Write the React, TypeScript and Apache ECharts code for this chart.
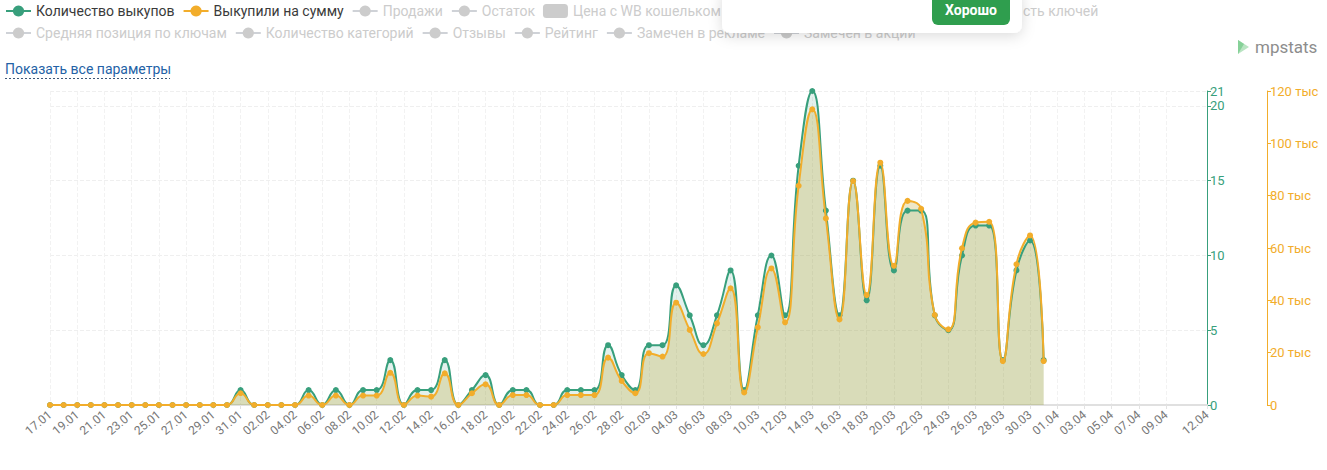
import React, { useEffect, useRef } from 'react';
import * as echarts from 'echarts';

const dates = [
  '17.01', '18.01', '19.01', '20.01', '21.01', '22.01', '23.01', '24.01', '25.01', '26.01',
  '27.01', '28.01', '29.01', '30.01', '31.01', '01.02', '02.02', '03.02', '04.02', '05.02',
  '06.02', '07.02', '08.02', '09.02', '10.02', '11.02', '12.02', '13.02', '14.02', '15.02',
  '16.02', '17.02', '18.02', '19.02', '20.02', '21.02', '22.02', '23.02', '24.02', '25.02',
  '26.02', '27.02', '28.02', '01.03', '02.03', '03.03', '04.03', '05.03', '06.03', '07.03',
  '08.03', '09.03', '10.03', '11.03', '12.03', '13.03', '14.03', '15.03', '16.03', '17.03',
  '18.03', '19.03', '20.03', '21.03', '22.03', '23.03', '24.03', '25.03', '26.03', '27.03',
  '28.03', '29.03', '30.03', '31.03', '01.04', '02.04', '03.04', '04.04', '05.04', '06.04',
  '07.04', '08.04', '09.04', '10.04', '11.04', '12.04',
];

// Количество выкупов (scale 0..21)
const purchaseCount: (number | null)[] = [
  0, 0, 0, 0, 0, 0, 0, 0, 0, 0,
  0, 0, 0, 0, 1, 0, 0, 0, 0, 1,
  0, 1, 0, 1, 1, 3, 0, 1, 1, 3,
  0, 1, 2, 0, 1, 1, 0, 0, 1, 1,
  1, 4, 2, 1, 4, 4, 8, 6, 4, 6,
  9, 1, 6, 10, 6, 16, 21, 13, 6, 15,
  7, 16, 9, 13, 13, 6, 5, 10, 12, 12,
  3, 9, 11, 3, null, null, null, null, null, null,
  null, null, null, null, null, null,
];

// Выкупили на сумму, руб.
const purchaseSum: (number | null)[] = [
  0, 0, 0, 0, 0, 0, 0, 0, 0, 0,
  0, 0, 0, 0, 4500, 0, 0, 0, 0, 3600,
  0, 3600, 0, 3600, 3600, 12300, 0, 3600, 3200, 12100,
  0, 4500, 7900, 0, 3800, 3800, 0, 0, 3800, 3800,
  3800, 18100, 9200, 4500, 19800, 18500, 39100, 28700, 19500, 31200,
  44600, 4800, 29700, 52200, 31600, 83800, 113000, 71300, 32700, 85600,
  42000, 92600, 53200, 78000, 75000, 34400, 28900, 59900, 69700, 70000,
  16800, 53800, 64800, 16800, null, null, null, null, null, null,
  null, null, null, null, null, null,
];

const legendRow1 = ['Количество выкупов', 'Выкупили на сумму', 'Продажи', 'Остаток', 'Цена с WB кошельком'];
const legendRow2 = ['Средняя позиция по ключам', 'Количество категорий', 'Отзывы', 'Рейтинг', 'Замечен в рекламе', 'Замечен в акции'];
const barLegendItems = ['Цена с WB кошельком'];
const partialLegendText = 'сть ключей';

const GREEN = '#389f7c';
const ORANGE = '#f2ad2b';
const FONT = 'Roboto, "Noto Sans", sans-serif';

const showLabelAt = (idx: number) => idx === dates.length - 1 || (idx % 2 === 0 && idx !== dates.length - 2);

export default function App() {
  const ref = useRef<HTMLDivElement>(null);

  useEffect(() => {
    document.body.style.margin = '0';
    if (!ref.current) return;
    const chart = echarts.init(ref.current, undefined, { renderer: 'svg' });

    const inactive = [...legendRow1, ...legendRow2].filter(
      (n) => n !== 'Количество выкупов' && n !== 'Выкупили на сумму'
    );
    const selected: Record<string, boolean> = {};
    inactive.forEach((n) => (selected[n] = false));

    const dummySeries = inactive.map((name) =>
      barLegendItems.includes(name)
        ? { name, type: 'bar', data: [], itemStyle: { borderRadius: 3 } }
        : { name, type: 'line', data: [], symbol: 'circle', symbolSize: 8 }
    );

    const legendCommon = {
      padding: 0,
      itemGap: 8,
      itemWidth: 25,
      itemHeight: 14,
      selected,
      selectedMode: false,
      inactiveColor: '#cccccc',
      textStyle: { color: '#3a3a3a', fontSize: 14, fontFamily: FONT },
    };

    const option: any = {
      animation: false,
      textStyle: { fontFamily: FONT },
      legend: [
        { ...legendCommon, left: 5, top: 4, data: legendRow1 },
        { ...legendCommon, left: 5, top: 26, data: legendRow2 },
      ],
      grid: { left: 50, right: 120, top: 91, bottom: 65 },
      xAxis: {
        type: 'category',
        boundaryGap: false,
        data: dates,
        axisLine: { lineStyle: { color: '#e0e0e0', width: 2 } },
        axisTick: { show: true, interval: showLabelAt, length: 4, lineStyle: { color: '#e3e3e3' } },
        axisLabel: {
          interval: showLabelAt,
          rotate: 40,
          color: '#777',
          fontSize: 12,
          margin: 8,
          fontFamily: FONT,
        },
        splitLine: { show: true, interval: showLabelAt, lineStyle: { color: '#f2f2f2', type: 'dashed' } },
      },
      yAxis: [
        {
          type: 'value',
          position: 'right',
          min: 0,
          max: 21,
          interval: 5,
          axisLine: { show: true, lineStyle: { color: GREEN } },
          axisTick: { show: true, length: 4, lineStyle: { color: GREEN } },
          axisLabel: { color: GREEN, fontSize: 13, margin: 3, fontFamily: FONT },
          splitLine: { show: true, lineStyle: { color: '#efefef', type: 'dashed' } },
        },
        {
          type: 'value',
          position: 'right',
          offset: 60,
          min: 0,
          max: 120000,
          interval: 20000,
          axisLine: { show: true, lineStyle: { color: ORANGE } },
          axisTick: { show: true, length: 4, lineStyle: { color: ORANGE } },
          axisLabel: {
            color: ORANGE,
            fontSize: 13,
            margin: 3,
            fontFamily: FONT,
            formatter: (v: number) => (v === 0 ? '0' : `${v / 1000} тыс`),
          },
          splitLine: { show: false },
        },
      ],
      series: [
        {
          name: 'areaCount',
          type: 'line',
          yAxisIndex: 0,
          data: purchaseCount,
          smooth: true,
          showSymbol: false,
          lineStyle: { width: 0 },
          areaStyle: { color: 'rgba(58,158,126,0.2)' },
          z: 1,
          silent: true,
        },
        {
          name: 'areaSum',
          type: 'line',
          yAxisIndex: 1,
          data: purchaseSum,
          smooth: true,
          showSymbol: false,
          lineStyle: { width: 0 },
          areaStyle: { color: 'rgba(188,163,40,0.37)' },
          z: 1,
          silent: true,
        },
        {
          name: 'Количество выкупов',
          type: 'line',
          yAxisIndex: 0,
          data: purchaseCount,
          smooth: true,
          symbol: 'circle',
          symbolSize: 6,
          showAllSymbol: true,
          lineStyle: { width: 2, color: GREEN },
          itemStyle: { color: GREEN },
          z: 3,
        },
        {
          name: 'Выкупили на сумму',
          type: 'line',
          yAxisIndex: 1,
          data: purchaseSum,
          smooth: true,
          symbol: 'circle',
          symbolSize: 6,
          showAllSymbol: true,
          lineStyle: { width: 2, color: ORANGE },
          itemStyle: { color: ORANGE },
          z: 4,
        },
        ...dummySeries,
      ],
      graphic: [
        {
          type: 'text',
          x: 1023,
          y: 11,
          style: {
            text: partialLegendText,
            fill: '#cccccc',
            font: `14px ${FONT}`,
            verticalAlign: 'middle',
          },
        },
        {
          type: 'text',
          x: 5,
          y: 69,
          style: {
            text: 'Показать все параметры',
            fill: '#2462a6',
            font: `14px ${FONT}`,
            verticalAlign: 'middle',
          },
        },
        {
          type: 'line',
          shape: { x1: 5, y1: 78.5, x2: 170, y2: 78.5 },
          style: { stroke: '#3d5778', lineWidth: 1, lineDash: [2, 2] },
        },
        {
          type: 'polygon',
          shape: { points: [[1238, 40], [1249, 47], [1238, 54]] },
          style: { fill: '#b9e4c2' },
        },
        {
          type: 'polygon',
          shape: { points: [[1238, 40], [1244, 44], [1238, 54]] },
          style: { fill: '#86d198' },
        },
        {
          type: 'text',
          x: 1255,
          y: 47,
          style: {
            text: 'mpstats',
            fill: '#8d8d8d',
            font: `17px ${FONT}`,
            verticalAlign: 'middle',
          },
        },
        {
          type: 'group',
          z: 100,
          children: [
            {
              type: 'rect',
              z: 100,
              shape: { x: 722, y: -12, width: 300, height: 45, r: 8 },
              style: {
                fill: '#ffffff',
                shadowBlur: 14,
                shadowColor: 'rgba(0,0,0,0.14)',
                shadowOffsetY: 3,
              },
            },
            {
              type: 'rect',
              z: 101,
              shape: { x: 932, y: -6, width: 78, height: 31, r: 6 },
              style: { fill: '#2f9e4e' },
            },
            {
              type: 'text',
              z: 102,
              x: 971,
              y: 10,
              style: {
                text: 'Хорошо',
                fill: '#ffffff',
                font: `bold 14px ${FONT}`,
                align: 'center',
                verticalAlign: 'middle',
              },
            },
          ],
        },
      ],
    };

    chart.setOption(option);
    return () => chart.dispose();
  }, []);

  return <div ref={ref} style={{ width: 1327, height: 470 }} />;
}
